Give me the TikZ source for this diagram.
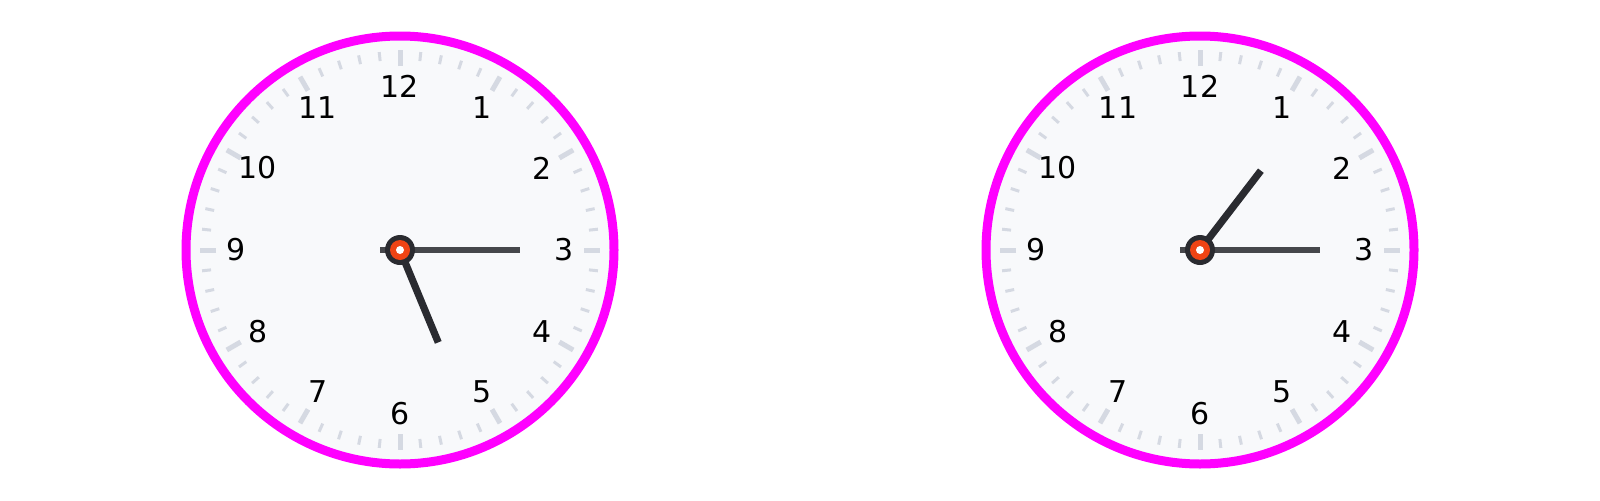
\documentclass[tikz,border=0pt]{standalone}
\usepackage{fontspec}
\setmainfont{DejaVu Sans}
\definecolor{rim}{HTML}{FF00FF}
\definecolor{face}{HTML}{F8F9FB}
\definecolor{tickgray}{HTML}{D5D9E2}
\definecolor{mingray}{HTML}{46474B}
\definecolor{hourgray}{HTML}{2A2B30}
\definecolor{hubred}{HTML}{F04414}

\begin{document}
\begin{tikzpicture}[x=0.5pt,y=0.5pt]
		\tikzset{
		    dial/.style={draw=rim,fill=face,line width=4.5pt},
		    minutetick/.style={draw=tickgray,line width=1.5pt},
		    hourtick/.style={draw=tickgray,line width=2.5pt},
		    numeral/.style={font=\fontsize{15}{18}\selectfont,inner sep=0pt},
		    minutehand/.style={draw=mingray,line width=3.2pt},
		    hourhand/.style={draw=hourgray,line width=3.6pt}
		}
		\useasboundingbox (0,0) rectangle (1600,500);

		\foreach \nm/\cx/\hr in {L/400/157.5, R/1200/37.5}{
			% dial
			\coordinate (\nm-c) at (\cx,250);
			\draw[dial] (\nm-c) circle (214);

			% ticks
			\foreach \a in {0,6,...,354}
				\draw[minutetick,shift={(\nm-c)}] (\a:190) -- (\a:199);
			\foreach \a in {0,30,...,330}
				\draw[hourtick,shift={(\nm-c)}] (\a:184) -- (\a:200);

			% numbers
			\foreach \n in {1,...,12}
				\node[numeral] (\nm-\n) at ([shift={(\nm-c)}]{90-30*\n}:164) {\n};

			% hands
			\coordinate (\nm-back) at ([shift={(\nm-c)}]180:20);
			\coordinate (\nm-min) at ([shift={(\nm-c)}]0:120);
			\coordinate (\nm-hour) at ([shift={(\nm-c)}]{90-\hr}:100);
			\draw[hourhand] (\nm-c) -- (\nm-hour);
			\draw[minutehand] (\nm-back) -- (\nm-min);

			% hub
			\fill[hourgray] (\nm-c) circle (15);
			\fill[hubred] (\nm-c) circle (10);
			\fill[white] (\nm-c) circle (4);
		}

	\end{tikzpicture}
\end{document}
